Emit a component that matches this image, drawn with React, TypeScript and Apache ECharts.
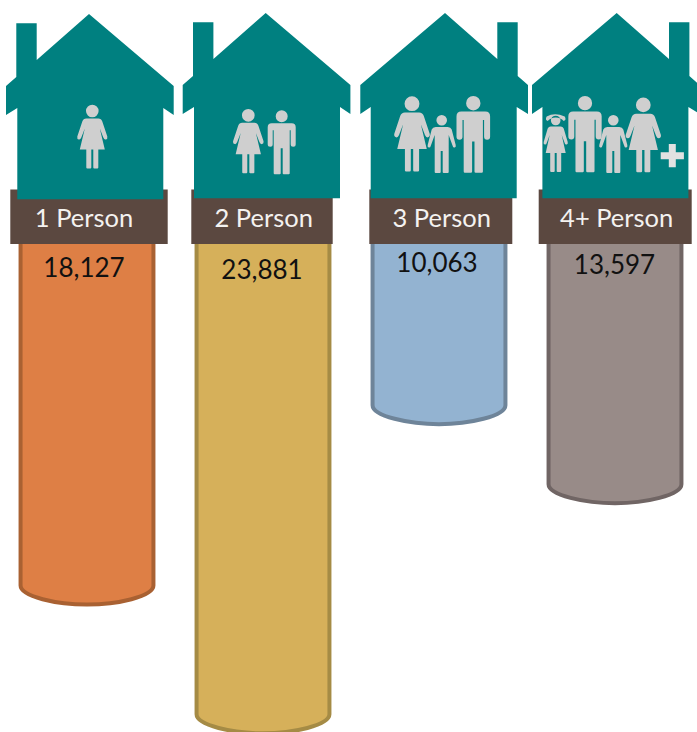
import React, { useEffect, useRef } from "react";
import * as echarts from "echarts";

// Households by number of occupants
const categories = ["1 Person", "2 Person", "3 Person", "4+ Person"];
const households = [18127, 23881, 10063, 13597];

const fillColors = ["#DE7F45", "#D6B05A", "#93B3D1", "#988B88"];
const strokeColors = ["#A96132", "#A58B45", "#6E8499", "#706564"];

const TEAL = "#008080";
const BROWN = "#5B4840";
const FIGURE = "#CFCFCF";
const FONT = "Lato, sans-serif";

// Outlines are drawn around the origin: apex of the roof, top centre of a figure.
const HOUSE_D =
  "M0 0 L84.7 72 L84.7 101 L74.3 94 L74.3 185.3 L-71.7 185.3 L-71.7 94 L-83 101 L-83 72 L-72.7 63 L-72.7 9.3 L-52.3 9.3 L-52.3 46 Z";
const WOMAN_D =
  "M-6.3 6.5 a6.3 6.3 0 1 0 12.6 0 a6.3 6.3 0 1 0 -12.6 0 Z " +
  "M-6 14 L6 14 Q9 14 10 17 L15 32 Q15.5 34.5 13.5 35 Q12 35.5 11 33 L7.5 24 L12.5 45 L6 45 L6 63 Q6 64 5 64 L2 64 Q1 64 1 63 L1 45 L-1 45 L-1 63 Q-1 64 -2 64 L-5 64 Q-6 64 -6 63 L-6 45 L-12.5 45 L-7.5 24 L-11 33 Q-12 35.5 -13.5 35 Q-15.5 34.5 -15 32 L-10 17 Q-9 14 -6 14 Z";
const MAN_D =
  "M-6 6 a6 6 0 1 0 12 0 a6 6 0 1 0 -12 0 Z " +
  "M-10 13 L10 13 Q14 13 14 17 L14 34 Q14 36.5 11.5 36.5 Q9 36.5 9 34 L9 20 L8 20 L8 63 Q8 64 7 64 L2 64 Q1 64 1 63 L1 38 L-1 38 L-1 63 Q-1 64 -2 64 L-7 64 Q-8 64 -8 63 L-8 20 L-9 20 L-9 34 Q-9 36.5 -11.5 36.5 Q-14 36.5 -14 34 L-14 17 Q-14 13 -10 13 Z";
const BOY_D =
  "M-5.3 5.3 a5.3 5.3 0 1 0 10.6 0 a5.3 5.3 0 1 0 -10.6 0 Z " +
  "M-6 12 L6 12 Q9 12 10 14.5 L14 30 Q14.5 32 13 32.5 Q11.5 33 11 31 L7 20 L7 57 Q7 58 6 58 L2 58 Q1 58 1 57 L1 36 L-1 36 L-1 57 Q-1 58 -2 58 L-6 58 Q-7 58 -7 57 L-7 20 L-11 31 Q-11.5 33 -13 32.5 Q-14.5 32 -14 30 L-10 14.5 Q-9 12 -6 12 Z";
const GIRL_D =
  "M-4.8 5.5 a4.8 4.8 0 1 0 9.6 0 a4.8 4.8 0 1 0 -9.6 0 Z " +
  "M-9 1.5 Q-1 -3 9 1.5 Q11 5 8 6 Q5 2.5 0 2.5 Q-5 2.5 -8 6 Q-11 5 -9 1.5 Z " +
  "M-5 11.5 L5 11.5 Q7 11.5 8 13.5 L12 27 Q12.5 29 11 29.5 Q9.5 30 9 28 L6 20 L10 38 L5.5 38 L5.5 56 Q5.5 57 4.5 57 L2 57 Q1 57 1 56 L1 38 L-1 38 L-1 56 Q-1 57 -2 57 L-4.5 57 Q-5.5 57 -5.5 56 L-5.5 38 L-10 38 L-6 20 L-9 28 Q-9.5 30 -11 29.5 Q-12.5 29 -12 27 L-8 13.5 Q-7 11.5 -5 11.5 Z";
const PLUS_D = "M-3.5 -11.6 L3.5 -11.6 L3.5 -3.5 L11.6 -3.5 L11.6 3.5 L3.5 3.5 L3.5 11.6 L-3.5 11.6 L-3.5 3.5 L-11.6 3.5 L-11.6 -3.5 L-3.5 -3.5 Z";

echarts.graphic.registerShape("houseOutline", echarts.graphic.extendPath(HOUSE_D, {}));
echarts.graphic.registerShape("woman", echarts.graphic.extendPath(WOMAN_D, {}));
echarts.graphic.registerShape("man", echarts.graphic.extendPath(MAN_D, {}));
echarts.graphic.registerShape("boy", echarts.graphic.extendPath(BOY_D, {}));
echarts.graphic.registerShape("girl", echarts.graphic.extendPath(GIRL_D, {}));
echarts.graphic.registerShape("plusSign", echarts.graphic.extendPath(PLUS_D, {}));

// Placement of the header artwork above each column
const roofApex = [
  { x: 89, y: 14, flip: 1 },
  { x: 265.7, y: 13, flip: 1 },
  { x: 445, y: 13, flip: -1 },
  { x: 616.7, y: 13, flip: -1 },
];
const plaques = [
  { x: 10.3, w: 157.4 },
  { x: 191.3, w: 141.4 },
  { x: 369.3, w: 143 },
  { x: 538.7, w: 153 },
];
const plaqueLabelX = [84, 263.7, 441.7, 616.7];
const valueLabelX = [84, 262, 437, 614.5];
const valueLabelY = [267, 269, 262, 264];

const figures = [
  { type: "woman", x: 92.3, y: 104.5, s: 1 },
  { type: "woman", x: 248.3, y: 108.7, s: 1.01 },
  { type: "man", x: 281.7, y: 110.3, s: 1 },
  { type: "woman", x: 412, y: 96, s: 1.18 },
  { type: "boy", x: 441.7, y: 115, s: 1 },
  { type: "man", x: 473.3, y: 96, s: 1.2 },
  { type: "girl", x: 555.7, y: 115, s: 1 },
  { type: "man", x: 585, y: 96, s: 1.19 },
  { type: "boy", x: 613.3, y: 115, s: 1 },
  { type: "woman", x: 643.3, y: 97.3, s: 1.17 },
];

function columnItem(params: any, api: any) {
  const i = params.dataIndex;
  const value = api.value(1);
  const [cx, yEnd] = api.coord([api.value(0), value]);
  const [, y0] = api.coord([api.value(0), 0]);
  const half = (api.size([1, 0])[0] * 0.755) / 2;
  const l = cx - half;
  const r = cx + half;
  const sag = 19;
  const d =
    `M${l} ${y0} L${r} ${y0} L${r} ${yEnd - sag} ` +
    `C${r} ${yEnd - 8} ${cx + half * 0.45} ${yEnd} ${cx} ${yEnd} ` +
    `C${cx - half * 0.45} ${yEnd} ${l} ${yEnd - 8} ${l} ${yEnd - sag} Z`;
  return {
    type: "group",
    children: [
      {
        type: "path",
        shape: { pathData: d },
        style: { fill: fillColors[i], stroke: strokeColors[i], lineWidth: 4, lineJoin: "round" },
      },
      {
        type: "text",
        z2: 5,
        style: {
          x: valueLabelX[i],
          y: valueLabelY[i],
          text: households[i].toLocaleString("en-US"),
          align: "center",
          verticalAlign: "middle",
          fill: "#111111",
          font: `26px ${FONT}`,
        },
      },
    ],
  };
}

function headerGraphics() {
  const out: any[] = [];
  categories.forEach((name, i) => {
    out.push({
      type: "rect",
      z: 10,
      shape: { x: plaques[i].x, y: 189.5, width: plaques[i].w, height: 54.5 },
      style: { fill: BROWN },
    });
    out.push({
      type: "houseOutline",
      z: 11,
      x: roofApex[i].x,
      y: roofApex[i].y,
      scaleX: roofApex[i].flip,
      scaleY: 1,
      style: { fill: TEAL },
    });
    out.push({
      type: "text",
      z: 12,
      x: plaqueLabelX[i],
      y: 216.5,
      style: {
        text: name,
        align: "center",
        verticalAlign: "middle",
        fill: "#F4F2F0",
        font: `25.5px ${FONT}`,
      },
    });
  });
  figures.forEach((f) => {
    out.push({
      type: f.type,
      z: 12,
      x: f.x,
      y: f.y,
      scaleX: f.s,
      scaleY: f.s,
      style: { fill: FIGURE },
    });
  });
  out.push({ type: "plusSign", z: 12, x: 672.3, y: 155.7, scaleX: 1, scaleY: 1, style: { fill: "#E2E2E2" } });
  return out;
}

export default function App() {
  const ref = useRef<HTMLDivElement>(null);

  useEffect(() => {
    const chart = echarts.init(ref.current!, null, { renderer: "svg" });
    chart.setOption({
      animation: false,
      backgroundColor: "#FFFFFF",
      // The plot runs slightly past the canvas so that the tallest column reaches the lower edge
      grid: { left: -1, top: 199, width: 704, height: 537, outerBoundsMode: "none" },
      xAxis: { type: "category", data: categories, show: false },
      yAxis: { type: "value", inverse: true, min: 0, max: 24000, show: false },
      graphic: { elements: headerGraphics() },
      series: [
        {
          type: "custom",
          coordinateSystem: "cartesian2d",
          clip: false,
          data: households.map((v, i) => [i, v]),
          encode: { x: 0, y: 1 },
          renderItem: columnItem,
        },
      ],
    });
    return () => chart.dispose();
  }, []);

  return <div ref={ref} style={{ position: "absolute", left: 0, top: 0, width: 697, height: 732 }} />;
}
